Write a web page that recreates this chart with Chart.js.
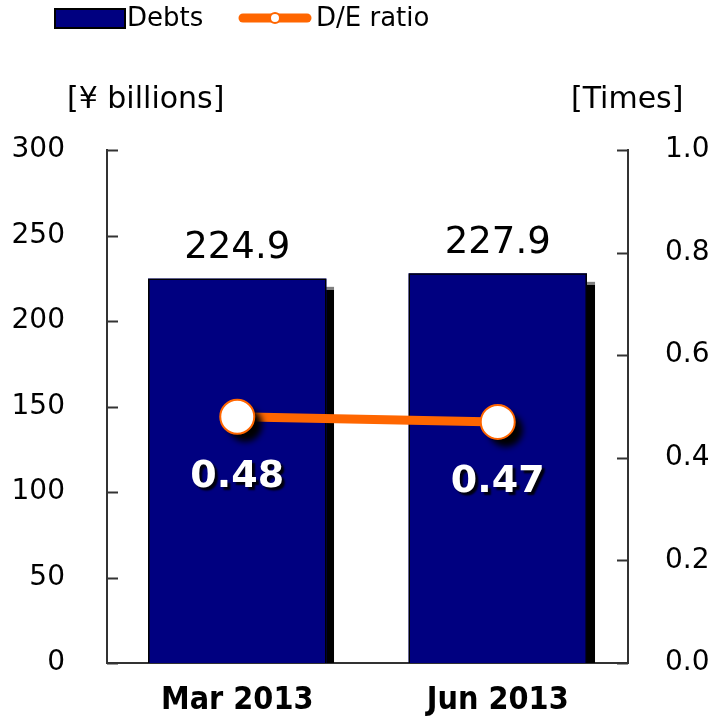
<!DOCTYPE html>
<html>
<head>
<meta charset="utf-8">
<script src="https://cdn.jsdelivr.net/npm/chart.js@4"></script>
<style>
  html, body { margin: 0; padding: 0; background: #fff; }
  #wrap { width: 719px; height: 723px; position: relative; }
</style>
</head>
<body>
<div id="wrap"><canvas id="myChart" width="719" height="723"></canvas></div>
<script>
var categories = ['Mar 2013', 'Jun 2013'];
var debts = [224.9, 227.9];
var deRatio = [0.48, 0.47];
var debtTicks = [0, 50, 100, 150, 200, 250, 300];
var ratioTicks = [0.0, 0.2, 0.4, 0.6, 0.8, 1.0];

var FONT = "'DejaVu Sans', Verdana, sans-serif";
var FONT_COND = "'DejaVu Sans Condensed', 'DejaVu Sans', sans-serif";
var navy = '#000080';
var orange = '#FF6600';

// shadow for bars and the ratio points
var shadowPlugin = {
  id: 'shadows',
  beforeDatasetDraw: function(chart, args) {
    var ds = chart.data.datasets[args.index];
    if (!ds.shadow) return;
    var ctx = chart.ctx;
    ctx.save();
    ctx.shadowColor = 'rgba(0,0,0,1)';
    ctx.shadowOffsetX = ds.shadow[0];
    ctx.shadowOffsetY = ds.shadow[1];
    ctx.shadowBlur = ds.shadow[2];
  },
  afterDatasetDraw: function(chart, args) {
    var ds = chart.data.datasets[args.index];
    if (!ds.shadow) return;
    chart.ctx.restore();
  }
};

// inward tick marks, axis titles, value labels and legend
var decorPlugin = {
  id: 'decor',
  afterDraw: function(chart) {
    var ctx = chart.ctx;
    var a = chart.chartArea;
    var y = chart.scales.y, y1 = chart.scales.y1;
    ctx.save();
    ctx.strokeStyle = '#333';
    ctx.lineWidth = 2;
    debtTicks.forEach(function(v) {
      var py = Math.round(y.getPixelForValue(v)) + 0.5;
      ctx.beginPath(); ctx.moveTo(a.left, py); ctx.lineTo(a.left + 11, py); ctx.stroke();
    });
    ratioTicks.forEach(function(v) {
      var py = Math.round(y1.getPixelForValue(v)) + 0.5;
      ctx.beginPath(); ctx.moveTo(a.right, py); ctx.lineTo(a.right - 11, py); ctx.stroke();
    });

    // axis titles
    ctx.fillStyle = '#000';
    ctx.font = '30px ' + FONT;
    ctx.textBaseline = 'middle';
    ctx.textAlign = 'left';
    ctx.fillText('[\u00A5 billions]', 67, 100);
    ctx.fillText('[Times]', 571, 100);

    // debt labels above bars
    var barMeta = chart.getDatasetMeta(0);
    ctx.textAlign = 'center';
    ctx.textBaseline = 'alphabetic';
    ctx.font = '37px ' + FONT;
    barMeta.data.forEach(function(el, i) {
      ctx.fillText(debts[i].toFixed(1), el.x, el.y - 20);
    });

    // ratio labels below points
    var ptMeta = chart.getDatasetMeta(3);
    ctx.font = 'bold 38px ' + FONT;
    ctx.shadowColor = 'rgba(0,0,0,0.9)';
    ctx.shadowOffsetX = 3; ctx.shadowOffsetY = 3; ctx.shadowBlur = 2;
    ctx.fillStyle = '#fff';
    ptMeta.data.forEach(function(el, i) {
      ctx.fillText(deRatio[i].toFixed(2), el.x, el.y + 70);
    });
    ctx.shadowColor = 'transparent';

    // legend
    ctx.fillStyle = navy;
    ctx.strokeStyle = '#000';
    ctx.lineWidth = 2;
    ctx.fillRect(55, 9, 70, 19);
    ctx.strokeRect(55, 9, 70, 19);
    ctx.strokeStyle = orange;
    ctx.lineWidth = 9;
    ctx.lineCap = 'round';
    ctx.beginPath(); ctx.moveTo(243, 18); ctx.lineTo(307, 18); ctx.stroke();
    ctx.fillStyle = '#fff';
    ctx.lineWidth = 2;
    ctx.beginPath(); ctx.arc(275, 18, 5, 0, Math.PI * 2); ctx.fill(); ctx.stroke();
    ctx.fillStyle = '#000';
    ctx.font = '26px ' + FONT;
    ctx.textAlign = 'left';
    ctx.textBaseline = 'middle';
    ctx.fillText('Debts', 127, 19);
    ctx.fillText('D/E ratio', 316, 19);
    ctx.restore();
  }
};

var ctx = document.getElementById('myChart');

var data = {
  labels: categories,
  datasets: [
    {
      type: 'bar',
      data: debts,
      yAxisID: 'y',
      backgroundColor: navy,
      borderWidth: 0,
      barPercentage: 0.685,
      categoryPercentage: 1,
      grouped: false,
      order: 5,
      shadow: [8, 9, 1]
    },
    {
      type: 'bar',
      data: debts,
      yAxisID: 'y',
      backgroundColor: 'rgba(0,0,0,0)',
      borderColor: '#000',
      borderWidth: 1.5,
      barPercentage: 0.685,
      categoryPercentage: 1,
      grouped: false,
      order: 4
    },
    {
      type: 'line',
      data: deRatio,
      yAxisID: 'y1',
      borderColor: orange,
      borderWidth: 9,
      pointRadius: 0,
      fill: false,
      order: 3
    },
    {
      type: 'line',
      data: deRatio,
      yAxisID: 'y1',
      showLine: false,
      pointRadius: 17,
      pointBackgroundColor: '#fff',
      pointBorderWidth: 0,
      order: 2,
      shadow: [8, 8, 6]
    },
    {
      type: 'line',
      data: deRatio,
      yAxisID: 'y1',
      showLine: false,
      pointRadius: 17,
      pointBackgroundColor: 'rgba(0,0,0,0)',
      pointBorderColor: orange,
      pointBorderWidth: 2,
      order: 1
    }
  ]
};

var options = {
  responsive: false,
  animation: false,
  layout: { padding: { top: 150, left: 0, right: 0, bottom: 0 } },
  plugins: { legend: { display: false }, tooltip: { enabled: false } },
  scales: {
    x: {
      grid: { display: false, drawTicks: false },
      border: { display: true, color: '#333', width: 2 },
      ticks: { color: '#000', font: { family: FONT_COND, size: 32, weight: 'bold' }, padding: 18 },
      afterFit: function(s) { s.height = 60; }
    },
    y: {
      position: 'left',
      min: 0, max: 300,
      afterBuildTicks: function(s) { s.ticks = debtTicks.map(function(v) { return { value: v }; }); },
      grid: { display: false, drawTicks: false },
      border: { display: true, color: '#333', width: 2 },
      ticks: { color: '#000', font: { family: FONT, size: 28 }, padding: 42 },
      afterFit: function(s) { s.width = 107; }
    },
    y1: {
      position: 'right',
      min: 0, max: 1,
      afterBuildTicks: function(s) { s.ticks = ratioTicks.map(function(v) { return { value: v }; }); },
      grid: { display: false, drawTicks: false },
      border: { display: true, color: '#333', width: 2 },
      ticks: { color: '#000', font: { family: FONT, size: 28 }, padding: 37,
        callback: function(v) { return Number(v).toFixed(1); } },
      afterFit: function(s) { s.width = 91; }
    }
  }
};

var myChart = new Chart(ctx, {
  data: data,
  options: options,
  plugins: [shadowPlugin, decorPlugin]
});
</script>
</body>
</html>
